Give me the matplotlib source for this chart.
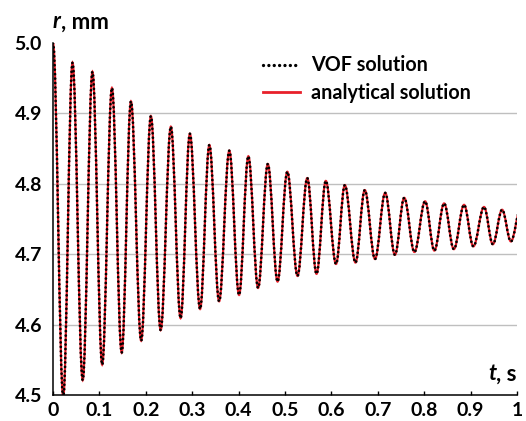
import matplotlib
matplotlib.use("Agg")
import matplotlib.pyplot as plt
from matplotlib.path import Path
from matplotlib.patches import PathPatch
from matplotlib.lines import Line2D

plt.rcParams['font.family'] = ['Lato', 'DejaVu Sans']

# extrema of r(t) (t in s, r in mm)
t_ext = [0, 0.022, 0.042, 0.064, 0.085, 0.106, 0.127, 0.148, 0.168, 0.190,
         0.211, 0.232, 0.254, 0.275, 0.295, 0.317, 0.337, 0.358, 0.380, 0.401,
         0.421, 0.442, 0.463, 0.484, 0.505, 0.527, 0.548, 0.568, 0.588, 0.610,
         0.629, 0.652, 0.672, 0.694, 0.716, 0.737, 0.757, 0.779, 0.802, 0.822,
         0.843, 0.864, 0.886, 0.906, 0.929, 0.948, 0.968, 0.987, 1.007]
r_ext = [5.0, 4.497, 4.972, 4.521, 4.959, 4.543, 4.936, 4.560, 4.917, 4.577,
         4.896, 4.592, 4.881, 4.609, 4.871, 4.622, 4.855, 4.633, 4.847, 4.642,
         4.839, 4.652, 4.828, 4.661, 4.817, 4.669, 4.808, 4.672, 4.804, 4.686,
         4.798, 4.688, 4.791, 4.693, 4.787, 4.699, 4.780, 4.703, 4.775, 4.705,
         4.772, 4.707, 4.770, 4.711, 4.767, 4.714, 4.763, 4.718, 4.762]

x_ticks = [0, 0.1, 0.2, 0.3, 0.4, 0.5, 0.6, 0.7, 0.8, 0.9, 1.0]
x_labels = ['0', '0.1', '0.2', '0.3', '0.4', '0.5', '0.6', '0.7', '0.8', '0.9', '1']
y_ticks = [4.5, 4.6, 4.7, 4.8, 4.9, 5.0]
y_labels = ['4.5', '4.6', '4.7', '4.8', '4.9', '5.0']


def wave_path(ts, rs, k=0.3634):
    # half-cosine between neighbouring extrema, as cubic bezier pieces
    verts = [(ts[0], rs[0])]
    codes = [Path.MOVETO]
    for i in range(len(ts) - 1):
        h = ts[i + 1] - ts[i]
        verts += [(ts[i] + k * h, rs[i]), (ts[i + 1] - k * h, rs[i + 1]), (ts[i + 1], rs[i + 1])]
        codes += [Path.CURVE4] * 3
    return Path(verts, codes)


fig = plt.figure(figsize=(5.26, 4.21), dpi=100)
ax = fig.add_axes([0.1008, 0.062, 0.882, 0.836])

for y in [4.6, 4.7, 4.8, 4.9]:
    ax.axhline(y, color='#bfbfbf', lw=1, zorder=0)

red = '#e8202a'
dots = (0, (0.01, 1.6))
ax.add_patch(PathPatch(wave_path(t_ext, r_ext), fc='none', ec=red, lw=1.6, zorder=2))
ax.add_patch(PathPatch(wave_path(t_ext, r_ext), fc='none', ec='black', lw=2.0,
                       linestyle=dots, capstyle='round', zorder=3))

ax.set_xlim(0, 1)
ax.set_ylim(4.5, 5.0)
ax.set_xticks(x_ticks)
ax.set_xticklabels(x_labels)
ax.set_yticks(y_ticks)
ax.set_yticklabels(y_labels)
for lab in ax.get_xticklabels() + ax.get_yticklabels():
    lab.set_fontweight('bold')
    lab.set_fontsize(14)
ax.tick_params(axis='x', direction='in', length=3, width=1, pad=5)
ax.tick_params(axis='y', length=0, pad=8)

for s in ['top', 'right']:
    ax.spines[s].set_visible(False)
for s in ['left', 'bottom']:
    ax.spines[s].set_linewidth(1.1)
    ax.spines[s].set_color('black')

# axis titles
rt = ax.text(0.0, 1.03, 'r', transform=ax.transAxes, fontsize=16,
             fontweight='bold', style='italic', va='bottom', ha='left')
ax.annotate(', mm', xy=(1, 0), xycoords=rt, fontsize=16, fontweight='bold', va='bottom', ha='left')
st = ax.text(1.0, 0.03, ', s', transform=ax.transAxes, fontsize=16,
             fontweight='bold', va='bottom', ha='right')
ax.annotate('t', xy=(0, 0), xycoords=st, fontsize=16, fontweight='bold',
            style='italic', va='bottom', ha='right')

handles = [Line2D([], [], color='black', lw=2.4, linestyle=(0, (0.01, 1.6)),
                  dash_capstyle='round'),
           Line2D([], [], color=red, lw=2.0)]
leg = ax.legend(handles, ['VOF solution', 'analytical solution'], loc='upper right',
                bbox_to_anchor=(0.94, 1.015), frameon=False, handlelength=1.85,
                handletextpad=0.6, labelspacing=0.4,
                prop={'weight': 'bold', 'size': 14.2})

fig.savefig('out.png', dpi=100)
